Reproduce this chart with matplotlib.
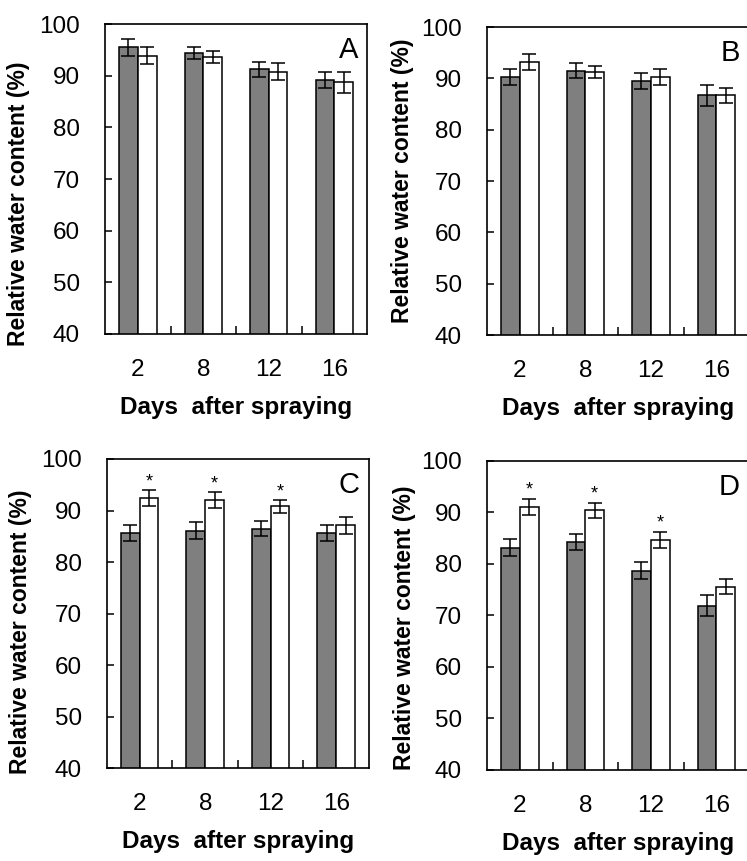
import matplotlib
matplotlib.use("Agg")
import matplotlib.pyplot as plt
import numpy as np

plt.rcParams["font.family"] = ["Liberation Sans", "DejaVu Sans"]

# DATA
days = ["2", "8", "12", "16"]
panels = ["A", "B", "C", "D"]

gray_a = [95.5, 94.4, 91.2, 89.2]
gray_a_err = [1.6, 1.2, 1.5, 1.5]
white_a = [93.9, 93.6, 90.8, 88.7]
white_a_err = [1.6, 1.2, 1.6, 2.0]

gray_b = [90.3, 91.5, 89.5, 86.7]
gray_b_err = [1.6, 1.5, 1.6, 2.1]
white_b = [93.2, 91.2, 90.3, 86.7]
white_b_err = [1.6, 1.2, 1.6, 1.5]

gray_c = [85.6, 86.1, 86.5, 85.6]
gray_c_err = [1.6, 1.6, 1.5, 1.6]
white_c = [92.4, 92.0, 90.8, 87.1]
white_c_err = [1.6, 1.5, 1.2, 1.6]

gray_d = [83.2, 84.3, 78.7, 71.9]
gray_d_err = [1.6, 1.6, 1.6, 2.0]
white_d = [91.1, 90.4, 84.7, 75.6]
white_d_err = [1.6, 1.5, 1.6, 1.5]

# significant difference marks (index of days)
stars_c = [0, 1, 2]
stars_d = [0, 1, 2]

data = {
    "A": (gray_a, gray_a_err, white_a, white_a_err, []),
    "B": (gray_b, gray_b_err, white_b, white_b_err, []),
    "C": (gray_c, gray_c_err, white_c, white_c_err, stars_c),
    "D": (gray_d, gray_d_err, white_d, white_d_err, stars_d),
}

# axes rectangles in figure fraction
rects = {
    "A": [0.1406, 0.6121, 0.3507, 0.3600],
    "B": [0.6520, 0.6109, 0.3507, 0.3577],
    "C": [0.1432, 0.1080, 0.3507, 0.3589],
    "D": [0.6520, 0.1057, 0.3507, 0.3589],
}
# y label position (axes fraction) per panel
ylab_pos = {
    "A": (-0.285, 0.42),
    "B": (-0.280, 0.50),
    "C": (-0.287, 0.44),
    "D": (-0.272, 0.46),
}

fig = plt.figure(figsize=(7.47, 8.61), dpi=100)

w = 0.286
x = np.arange(len(days))

for name in panels:
    g, ge, wh, we, stars = data[name]
    ax = fig.add_axes(rects[name])

    ax.bar(x - w / 2, g, w, color="#7f7f7f", edgecolor="black",
           linewidth=1.1, zorder=2)
    ax.bar(x + w / 2, wh, w, color="white", edgecolor="black",
           linewidth=1.1, zorder=2)
    ax.errorbar(x - w / 2, g, yerr=ge, fmt="none", ecolor="black",
                elinewidth=1.1, capsize=4.7, capthick=1.1, zorder=3)
    ax.errorbar(x + w / 2, wh, yerr=we, fmt="none", ecolor="black",
                elinewidth=1.1, capsize=4.7, capthick=1.1, zorder=3)

    for i in stars:
        ax.text(x[i] + w / 2, wh[i] + we[i] + 1.6, "*", ha="center",
                va="center", fontsize=13)

    ax.set_xlim(-0.5, 3.5)
    ax.set_ylim(40, 100)
    ax.set_yticks(range(40, 101, 10))
    ax.set_xticks(x)
    ax.set_xticklabels(days)
    ax.set_xticks([0.5, 1.5, 2.5], minor=True)

    ax.tick_params(axis="y", direction="in", length=5, width=1.1,
                   labelsize=17.5, pad=18)
    ax.tick_params(axis="x", which="major", length=0, labelsize=17.5, pad=18)
    ax.tick_params(axis="x", which="minor", direction="in", length=6,
                   width=1.1)
    for s in ax.spines.values():
        s.set_linewidth(1.2)

    ax.set_ylabel("Relative water content (%)", fontsize=16.5,
                  fontweight="bold")
    ax.yaxis.set_label_coords(*ylab_pos[name])
    ax.set_xlabel("Days  after spraying", fontsize=17.5, fontweight="bold",
                  labelpad=11)

    ax.text(0.965, 0.915, name, transform=ax.transAxes, ha="right",
            va="center", fontsize=21)

fig.savefig("out.png", dpi=100)
